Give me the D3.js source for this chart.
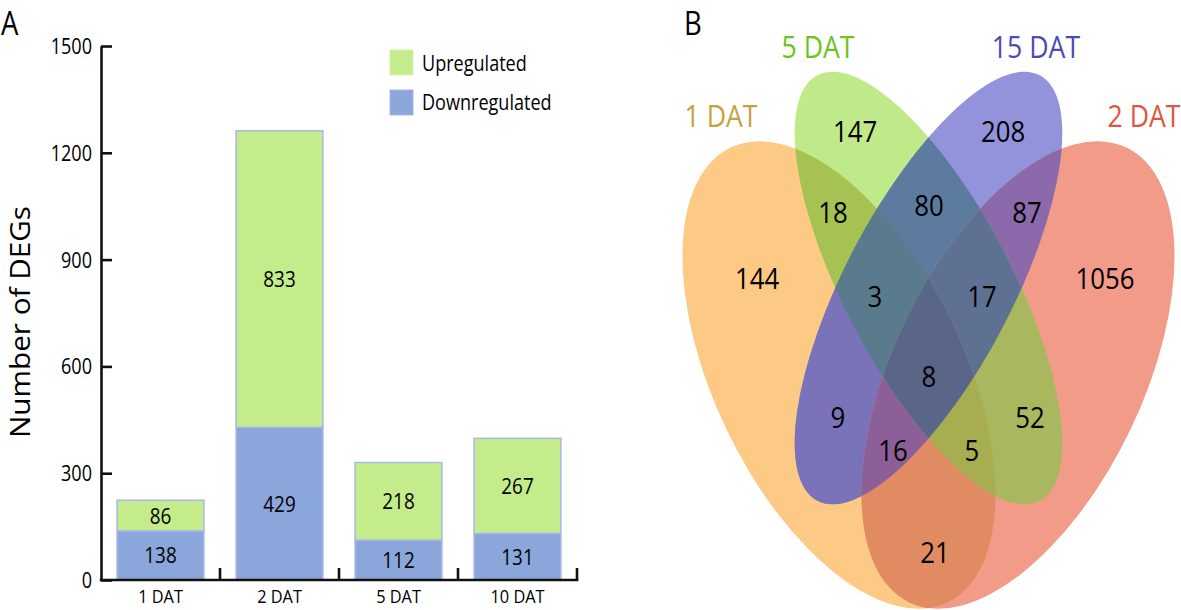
<!DOCTYPE html>
<html>
<head>
<meta charset="utf-8">
<script src="https://cdn.jsdelivr.net/npm/d3@7"></script>
<style>
  html, body { margin: 0; padding: 0; background: #fff; }
  svg { display: block; font-family: "Open Sans", "Noto Sans", sans-serif; font-weight: 500; }
</style>
</head>
<body>
<script>
// ---------- Data: panel A ----------
const categories = ["1 DAT", "2 DAT", "5 DAT", "10 DAT"];
const downregulated = [138, 429, 112, 131];
const upregulated = [86, 833, 218, 267];
const yTicks = [0, 300, 600, 900, 1200, 1500];
const legendLabels = ["Upregulated", "Downregulated"];
const yTitle = "Number of DEGs";

// ---------- Data: panel B ----------
const vennSetNames = ["1 DAT", "5 DAT", "15 DAT", "2 DAT"];
const vennRegionSets = ["1", "5", "15", "2", "1,5", "5,15", "15,2", "1,15", "1,2", "5,2",
                        "1,5,15", "5,15,2", "1,15,2", "1,5,2", "1,5,15,2"];
const vennRegionCounts = [144, 147, 208, 1056, 18, 80, 87, 9, 21, 52, 3, 17, 16, 5, 8];

// ---------- Styles / layout (not data) ----------
const W = 1181, H = 610;
const SQ = 0.86; // horizontal squeeze for text to mimic condensed font
const colUp = "#c4ec8b", colDown = "#8ba6da", colBarStroke = "#aab6ec";

const setColors = {"1": "#c9a041", "5": "#6cc418", "15": "#4b4bb2", "2": "#e4543f"};
const regionColors = {
  "1": "#fdca86", "2": "#f29b88", "5": "#c0e98a", "15": "#9393dc",
  "1,5": "#a6c252", "5,15": "#5c7b9e", "15,2": "#8b69aa", "1,15": "#7b73b9",
  "1,2": "#e18b63", "5,2": "#a9b85e", "1,5,15": "#5a7b8e", "5,15,2": "#5f7192",
  "1,15,2": "#8c5f99", "1,5,2": "#a7ae52", "1,5,15,2": "#5a6687"
};
const AX = 928.5;
const ellipses = {
  "1":  {cx: AX - 89.5, cy: 375, rx: 125, ry: 252, rot: -25.5},
  "2":  {cx: AX + 89.5, cy: 375, rx: 125, ry: 252, rot: 25.5},
  "5":  {cx: AX, cy: 288, rx: 84, ry: 240, rot: -27.6},
  "15": {cx: AX, cy: 288, rx: 84, ry: 240, rot: 27.6}
};
const regionLabelPos = {
  "1": [757, 278], "5": [855, 131], "15": [1003, 131], "2": [1105, 278],
  "1,5": [833, 212], "5,15": [929, 205], "15,2": [1027, 212],
  "1,15": [838, 417], "1,2": [935, 552], "5,2": [1030, 417],
  "1,5,15": [875, 296], "5,15,2": [982, 296], "1,15,2": [893, 450],
  "1,5,2": [972, 450], "1,5,15,2": [929, 376]
};
const setLabelPos = {"1": [721, 127], "5": [818, 58], "15": [1036, 58], "2": [1144, 127]};
const setKeys = ["1", "5", "15", "2"];

const svg = d3.select("body").append("svg").attr("width", W).attr("height", H);

function sqText(g, x, y, txt, size, anchor, color, extra, sq) {
  return g.append("text")
    .attr("transform", `translate(${x},${y}) ${extra || ""} scale(${sq || SQ},1)`)
    .attr("text-anchor", anchor || "middle")
    .attr("font-size", size)
    .attr("fill", color || "#000")
    .text(txt);
}

// ================= Panel A =================
const A = svg.append("g");
const y = d3.scaleLinear().domain([0, 1500]).range([580, 46]);
const x = d3.scaleBand().domain(categories).range([101, 577]).paddingInner(0.27).paddingOuter(0.135);

const stacked = categories.map((c, i) => ({c, down: downregulated[i], up: upregulated[i]}));

// bars
const bars = A.append("g");
bars.selectAll("rect.down").data(stacked).join("rect")
  .attr("x", d => x(d.c)).attr("width", x.bandwidth())
  .attr("y", d => y(d.down)).attr("height", d => y(0) - y(d.down))
  .attr("fill", colDown).attr("stroke", colBarStroke).attr("stroke-width", 1.5);
bars.selectAll("rect.up").data(stacked).join("rect")
  .attr("x", d => x(d.c)).attr("width", x.bandwidth())
  .attr("y", d => y(d.down + d.up)).attr("height", d => y(d.down) - y(d.down + d.up))
  .attr("fill", colUp).attr("stroke", colBarStroke).attr("stroke-width", 1.5);

// bar value labels
stacked.forEach(d => {
  const cx = x(d.c) + x.bandwidth() / 2;
  sqText(A, cx, (y(0) + y(d.down)) / 2 + 8, d.down, 22);
  sqText(A, cx, (y(d.down) + y(d.down + d.up)) / 2 + 8, d.up, 22);
});

// y axis
const yAxis = A.append("g").attr("transform", "translate(101,0)")
  .call(d3.axisLeft(y).tickValues(yTicks).tickFormat(d3.format("d"))
    .tickSizeInner(-11).tickSizeOuter(0).tickPadding(0));
yAxis.select(".domain").attr("stroke", "#111").attr("stroke-width", 2.6);
yAxis.selectAll(".tick line").attr("stroke", "#111").attr("stroke-width", 2.6);
yAxis.selectAll(".tick text")
  .attr("x", null).attr("dy", "0.36em")
  .attr("transform", `translate(-9,0) scale(${SQ},1)`)
  .attr("font-size", 21).attr("font-family", "Open Sans").attr("font-weight", 500).attr("fill", "#000");

// x axis
const xAxis = A.append("g").attr("transform", "translate(0,580)")
  .call(d3.axisBottom(x).tickSize(0).tickPadding(0));
xAxis.select(".domain").attr("stroke", "#111").attr("stroke-width", 2.6)
  .attr("d", `M${x.range()[0] - 1.3},0H${x.range()[1] + 1.3}`);
xAxis.selectAll(".tick text")
  .attr("y", null).attr("dy", null)
  .attr("transform", `translate(0,23) scale(${SQ},1)`)
  .attr("font-size", 19).attr("font-family", "Open Sans").attr("font-weight", 500).attr("fill", "#000");
// boundary ticks (upward)
const boundaries = categories.map((c, i) => x.range()[0] + x.step() * (i + 1));
xAxis.selectAll("line.bt").data(boundaries).join("line")
  .attr("x1", d => d).attr("x2", d => d).attr("y1", 0).attr("y2", -12)
  .attr("stroke", "#111").attr("stroke-width", 2.6);

// axis title
sqText(A, 30, 322, yTitle, 28, "middle", "#000", "rotate(-90)", 1.06);

// legend
const legendColors = [colUp, colDown];
legendLabels.forEach((lab, i) => {
  A.append("rect").attr("x", 390).attr("y", 50 + i * 40).attr("width", 23).attr("height", 25)
    .attr("fill", legendColors[i]).attr("stroke", i ? colBarStroke : "#d5f2b0").attr("stroke-width", 1);
  sqText(A, 422, 71 + i * 39, lab, 21, "start");
});

// panel letter
sqText(svg, 1, 35, "A", 32, "start");

// ================= Panel B =================
const B = svg.append("g");
const defs = svg.append("defs");
setKeys.forEach(k => {
  const e = ellipses[k];
  defs.append("clipPath").attr("id", "cp" + k)
    .append("ellipse")
    .attr("cx", 0).attr("cy", 0).attr("rx", e.rx).attr("ry", e.ry)
    .attr("transform", `translate(${e.cx},${e.cy}) rotate(${e.rot})`);
});

const regions = vennRegionSets.map((s, i) => ({key: s, sets: s.split(","), count: vennRegionCounts[i]}))
  .sort((a, b) => a.sets.length - b.sets.length);

regions.forEach(r => {
  let g = B;
  r.sets.slice(0, -1).forEach(s => { g = g.append("g").attr("clip-path", `url(#cp${s})`); });
  const last = ellipses[r.sets[r.sets.length - 1]];
  g.append("ellipse")
    .attr("cx", 0).attr("cy", 0).attr("rx", last.rx).attr("ry", last.ry)
    .attr("transform", `translate(${last.cx},${last.cy}) rotate(${last.rot})`)
    .attr("fill", regionColors[r.key]);
});

regions.forEach(r => {
  const p = regionLabelPos[r.key];
  sqText(B, p[0], p[1] + 10.5, r.count, 30);
});

vennSetNames.forEach((n, i) => {
  const k = setKeys[i];
  const p = setLabelPos[k];
  sqText(B, p[0], p[1], n, 31, "middle", setColors[k]);
});

sqText(svg, 684, 35, "B", 32, "start");
</script>
</body>
</html>
